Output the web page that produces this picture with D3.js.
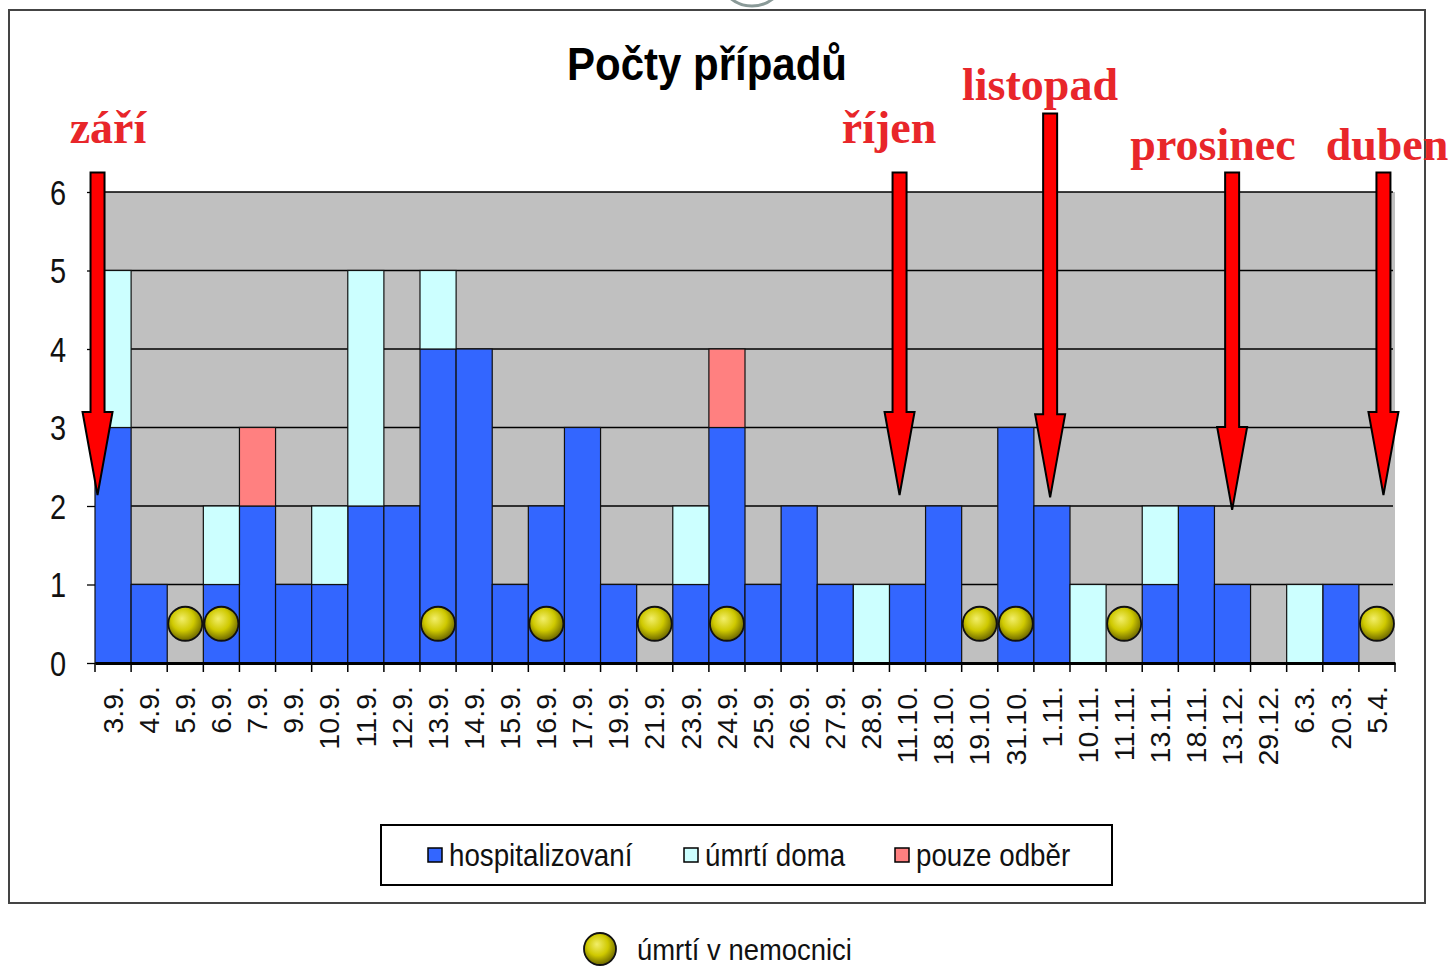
<!DOCTYPE html>
<html>
<head>
<meta charset="utf-8">
<script src="https://cdn.jsdelivr.net/npm/d3@7"></script>
<style>
  body { margin: 0; background: #fff; }
  svg { display: block; }
  text { font-family: "Liberation Sans", Arial, sans-serif; }
</style>
</head>
<body>
<div id="chart"></div>
<script>
// data
const dates = ["3.9.", "4.9.", "5.9.", "6.9.", "7.9.", "9.9.", "10.9.", "11.9.", "12.9.", "13.9.",
  "14.9.", "15.9.", "16.9.", "17.9.", "19.9.", "21.9.", "23.9.", "24.9.", "25.9.", "26.9.",
  "27.9.", "28.9.", "11.10.", "18.10.", "19.10.", "31.10.", "1.11.", "10.11.", "11.11.", "13.11.",
  "18.11.", "13.12.", "29.12.", "6.3.", "20.3.", "5.4."];
const hospitalizovani = [3, 1, 0, 1, 2, 1, 1, 2, 2, 4, 4, 1, 2, 3, 1, 0, 1, 3, 1, 2, 1, 0, 1, 2, 0, 3, 2, 0, 0, 1, 2, 1, 0, 0, 1, 0];
const umrtiDoma =       [2, 0, 0, 1, 0, 0, 1, 3, 0, 1, 0, 0, 0, 0, 0, 0, 1, 0, 0, 0, 0, 1, 0, 0, 0, 0, 0, 1, 0, 1, 0, 0, 0, 1, 0, 0];
const pouzeOdber =      [0, 0, 0, 0, 1, 0, 0, 0, 0, 0, 0, 0, 0, 0, 0, 0, 0, 1, 0, 0, 0, 0, 0, 0, 0, 0, 0, 0, 0, 0, 0, 0, 0, 0, 0, 0];
// days with a death in hospital (drawn as yellow balls)
const umrtiNemocnice = ["5.9.", "6.9.", "13.9.", "16.9.", "21.9.", "24.9.", "19.10.", "31.10.", "11.11.", "5.4."];
const yTicks = [0, 1, 2, 3, 4, 5, 6];
const seriesKeys = ["hosp", "doma", "odber"];
const seriesNames = ["hospitalizovaní", "úmrtí doma", "pouze odběr"];
// month markers: label, date, value of arrow top
const monthLabels = ["září", "říjen", "listopad", "prosinec", "duben"];
const monthDates = ["3.9.", "11.10.", "1.11.", "13.12.", "5.4."];
const monthTop = [6.25, 6.25, 7.0, 6.25, 6.25];
const monthTip = [2.14, 2.14, 2.11, 1.95, 2.14];

const W = 1451, H = 967;
const margin = { top: 192, right: 56, bottom: 304, left: 95 };

const svg = d3.select("#chart").append("svg")
  .attr("width", W).attr("height", H);

const defs = svg.append("defs");
const grad = defs.append("radialGradient").attr("id", "ball")
  .attr("cx", "45%").attr("cy", "40%").attr("r", "60%").attr("fx", "40%").attr("fy", "35%");
grad.append("stop").attr("offset", "0%").attr("stop-color", "#f2ee6a");
grad.append("stop").attr("offset", "55%").attr("stop-color", "#cfc900");
grad.append("stop").attr("offset", "100%").attr("stop-color", "#6b6600");

// logo fragment peeking in at the top
svg.append("circle").attr("cx", 752).attr("cy", -28).attr("r", 34)
  .attr("fill", "none").attr("stroke", "#8a9a98").attr("stroke-width", 3);

// outer frame
svg.append("rect").attr("x", 9).attr("y", 10).attr("width", 1416).attr("height", 893)
  .attr("fill", "#fff").attr("stroke", "#444").attr("stroke-width", 2);

const x = d3.scaleBand().domain(dates).range([margin.left, W - margin.right]).padding(0);
const y = d3.scaleLinear().domain([0, 6]).range([H - margin.bottom, margin.top]);

// plot area
svg.append("rect")
  .attr("x", x.range()[0]).attr("y", y(6))
  .attr("width", x.range()[1] - x.range()[0]).attr("height", y(0) - y(6))
  .attr("fill", "#c0c0c0");

// grid
svg.append("g")
  .selectAll("line")
  .data(yTicks.slice(1))
  .join("line")
  .attr("x1", x.range()[0]).attr("x2", x.range()[1] - 2)
  .attr("y1", d => y(d)).attr("y2", d => y(d))
  .attr("stroke", "#000").attr("stroke-width", 1.3);

const table = dates.map((d, i) => ({
  date: d, hosp: hospitalizovani[i], doma: umrtiDoma[i], odber: pouzeOdber[i]
}));
const series = d3.stack().keys(seriesKeys)(table);
const color = d3.scaleOrdinal().domain(seriesKeys).range(["#3366ff", "#ccffff", "#ff8080"]);

svg.selectAll("g.layer")
  .data(series)
  .join("g")
  .attr("class", "layer")
  .attr("fill", d => color(d.key))
  .selectAll("rect")
  .data(d => d.filter(v => v[1] > v[0]))
  .join("rect")
  .attr("x", d => x(d.data.date))
  .attr("y", d => y(d[1]))
  .attr("width", x.bandwidth())
  .attr("height", d => y(d[0]) - y(d[1]))
  .attr("stroke", "#111").attr("stroke-width", 1.2);

// y axis
const yAxis = svg.append("g")
  .attr("transform", `translate(${margin.left},0)`)
  .call(d3.axisLeft(y).tickValues(yTicks).tickSize(8).tickSizeOuter(0).tickPadding(0).tickFormat(d3.format("d")));
yAxis.select(".domain").remove();
yAxis.selectAll("line").attr("stroke", "#000").attr("stroke-width", 1.3);
yAxis.selectAll("text")
  .attr("x", null).attr("dy", null)
  .attr("text-anchor", "middle")
  .attr("transform", "translate(-37,12) scale(1,1.18)")
  .style("font-size", "29px").attr("fill", "#111");

// x axis
const xAxis = svg.append("g")
  .attr("transform", `translate(0,${y(0)})`)
  .call(d3.axisBottom(x).tickSize(0).tickSizeOuter(0));
xAxis.select(".domain").attr("stroke", "#000").attr("stroke-width", 3);
xAxis.selectAll("text")
  .attr("y", null).attr("dy", null)
  .attr("text-anchor", "end")
  .attr("transform", "translate(0,23) rotate(-90) scale(1.06,1)")
  .attr("dy", "0.36em")
  .style("font-size", "27px").attr("fill", "#111");
// band boundary ticks
svg.append("g")
  .selectAll("line")
  .data(dates.concat(["end"]))
  .join("line")
  .attr("x1", (d, i) => i < dates.length ? x(d) : x.range()[1])
  .attr("x2", (d, i) => i < dates.length ? x(d) : x.range()[1])
  .attr("y1", y(0)).attr("y2", y(0) + 9)
  .attr("stroke", "#000").attr("stroke-width", 1.5);

// deaths in hospital
svg.append("g")
  .selectAll("circle")
  .data(umrtiNemocnice)
  .join("circle")
  .attr("cx", d => x(d) + x.bandwidth() / 2)
  .attr("cy", y(0.5))
  .attr("r", 17)
  .attr("fill", "url(#ball)")
  .attr("stroke", "#111").attr("stroke-width", 1.8);

// title
svg.append("text")
  .attr("transform", "translate(707,80) scale(1,1.1)")
  .attr("text-anchor", "middle")
  .style("font-size", "42px").style("font-weight", "bold")
  .attr("fill", "#000")
  .text("Počty případů");

// month arrows
const arrowShift = [0.07, 0.28, 0.45, 0.49, 0.68];
const labelPos = [[108, 143], [889, 143], [1040, 100], [1213, 160], [1387, 160]];
const arrows = svg.append("g");
monthLabels.forEach((m, i) => {
  const cx = x(monthDates[i]) + arrowShift[i] * x.bandwidth();
  const top = y(monthTop[i]), tip = y(monthTip[i]);
  const headStart = tip - 83;
  const sw = 7, hw = 15;
  const path = d3.path();
  path.moveTo(cx - sw, top);
  path.lineTo(cx + sw, top);
  path.lineTo(cx + sw, headStart);
  path.lineTo(cx + hw, headStart);
  path.lineTo(cx, tip);
  path.lineTo(cx - hw, headStart);
  path.lineTo(cx - sw, headStart);
  path.closePath();
  arrows.append("path").attr("d", path.toString())
    .attr("fill", "#ff0000").attr("stroke", "#000").attr("stroke-width", 2)
    .attr("stroke-linejoin", "miter");
  arrows.append("text")
    .attr("x", labelPos[i][0]).attr("y", labelPos[i][1])
    .attr("text-anchor", "middle")
    .style("font-family", "'Liberation Serif', 'Times New Roman', serif")
    .style("font-size", "46px").style("font-weight", "bold")
    .attr("fill", "#e8262a")
    .text(m);
});

// legend box
svg.append("rect").attr("x", 381).attr("y", 825).attr("width", 731).attr("height", 60)
  .attr("fill", "#fff").attr("stroke", "#000").attr("stroke-width", 2);
const legendX = [428, 684, 895];
const legend = svg.append("g");
seriesKeys.forEach((k, i) => {
  legend.append("rect").attr("x", legendX[i]).attr("y", 848).attr("width", 14).attr("height", 14)
    .attr("fill", color(k)).attr("stroke", "#000").attr("stroke-width", 1.5);
  legend.append("text")
    .attr("transform", `translate(${legendX[i] + 21},866) scale(0.99,1.1)`)
    .style("font-size", "28px").attr("fill", "#111")
    .text(seriesNames[i]);
});

// hospital death legend below the frame
svg.append("circle").attr("cx", 600).attr("cy", 949).attr("r", 16)
  .attr("fill", "url(#ball)").attr("stroke", "#111").attr("stroke-width", 1.8);
svg.append("text")
  .attr("transform", "translate(637,960) scale(0.98,1.08)")
  .style("font-size", "28px").attr("fill", "#111")
  .text("úmrtí v nemocnici");
</script>
</body>
</html>
